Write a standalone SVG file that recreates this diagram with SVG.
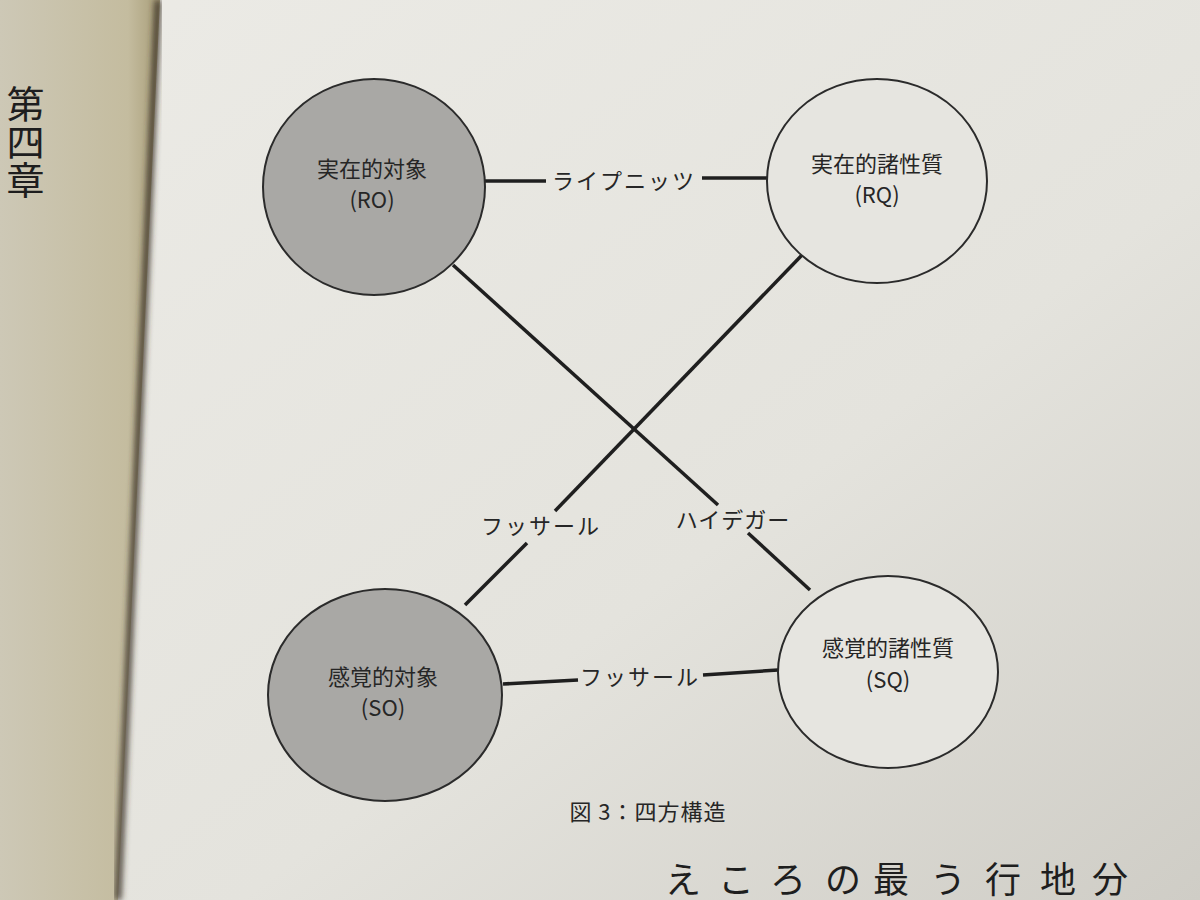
<svg xmlns="http://www.w3.org/2000/svg" width="1200" height="900" viewBox="0 0 1200 900">
<defs>
<linearGradient id="page" x1="0" y1="0" x2="1" y2="1">
<stop offset="0" stop-color="#ecebe6"/>
<stop offset="0.6" stop-color="#e4e3dd"/>
<stop offset="1" stop-color="#cfcdc6"/>
</linearGradient>
<linearGradient id="left" x1="0" y1="0" x2="1" y2="0">
<stop offset="0" stop-color="#cdc8b6"/>
<stop offset="0.8" stop-color="#c4bc9f"/>
<stop offset="1" stop-color="#a89d78"/>
</linearGradient>
<filter id="blur"><feGaussianBlur stdDeviation="3"/></filter>
<style>
.dark{fill:#a9a8a5;stroke:#2b2b2b;stroke-width:2}
.light{fill:#e6e5e0;stroke:#2b2b2b;stroke-width:2}
.lbl{font-family:"Noto Sans CJK JP","Noto Sans",sans-serif;font-size:22px;fill:#262626;text-anchor:middle}
.edge{stroke:#1f1f1f;stroke-width:3.5;fill:none;stroke-linecap:butt}
.serif{font-family:"Liberation Serif","Noto Sans CJK JP",serif;fill:#1e1e1e}
</style>
</defs>
<rect width="1200" height="900" fill="url(#page)"/>
<polygon points="0,0 160,0 118,900 0,900" fill="url(#left)"/>
<line x1="158" y1="0" x2="118" y2="900" stroke="#3b3325" stroke-width="6" filter="url(#blur)"/>
<text class="serif" x="22" y="85" font-size="38" style="writing-mode:vertical-rl">第四章</text>
<text class="serif" font-size="36" y="893"><tspan x="665">え</tspan><tspan x="718">こ</tspan><tspan x="770">ろ</tspan><tspan x="825">の</tspan><tspan x="873">最</tspan><tspan x="930">う</tspan><tspan x="985">行</tspan><tspan x="1040">地</tspan><tspan x="1092">分</tspan></text>

<g id="connectors">
<line class="edge" x1="485" y1="181" x2="546" y2="181"/>
<line class="edge" x1="702" y1="178" x2="767" y2="178"/>
<line class="edge" x1="453" y1="265" x2="718" y2="505"/>
<line class="edge" x1="748" y1="533" x2="810" y2="590"/>
<line class="edge" x1="802" y1="255" x2="555" y2="511"/>
<line class="edge" x1="527" y1="543" x2="465" y2="605"/>
<line class="edge" x1="503" y1="684" x2="578" y2="680"/>
<line class="edge" x1="703" y1="675" x2="778" y2="670"/>
<text class="lbl" x="624" y="189" letter-spacing="2">ライプニッツ</text>
<text class="lbl" x="541" y="534" letter-spacing="2">フッサール</text>
<text class="lbl" x="733" y="528" letter-spacing="1">ハイデガー</text>
<text class="lbl" x="640" y="685" letter-spacing="2">フッサール</text>
</g>

<g id="RO">
<ellipse class="dark" cx="374" cy="187" rx="111" ry="108"/>
<text class="lbl" x="372" y="177">実在的対象</text>
<text class="lbl" x="372" y="208">(RO)</text>
</g>
<g id="RQ">
<ellipse class="light" cx="877" cy="181" rx="110" ry="102"/>
<text class="lbl" x="877" y="172">実在的諸性質</text>
<text class="lbl" x="877" y="203">(RQ)</text>
</g>
<g id="SO">
<ellipse class="dark" cx="385" cy="695" rx="117" ry="106"/>
<text class="lbl" x="383" y="685">感覚的対象</text>
<text class="lbl" x="383" y="716">(SO)</text>
</g>
<g id="SQ">
<ellipse class="light" cx="888" cy="672" rx="110" ry="96"/>
<text class="lbl" x="888" y="656">感覚的諸性質</text>
<text class="lbl" x="888" y="688">(SQ)</text>
</g>
<text class="lbl" x="648" y="820" font-size="22" letter-spacing="1">図 3：四方構造</text>
</svg>
